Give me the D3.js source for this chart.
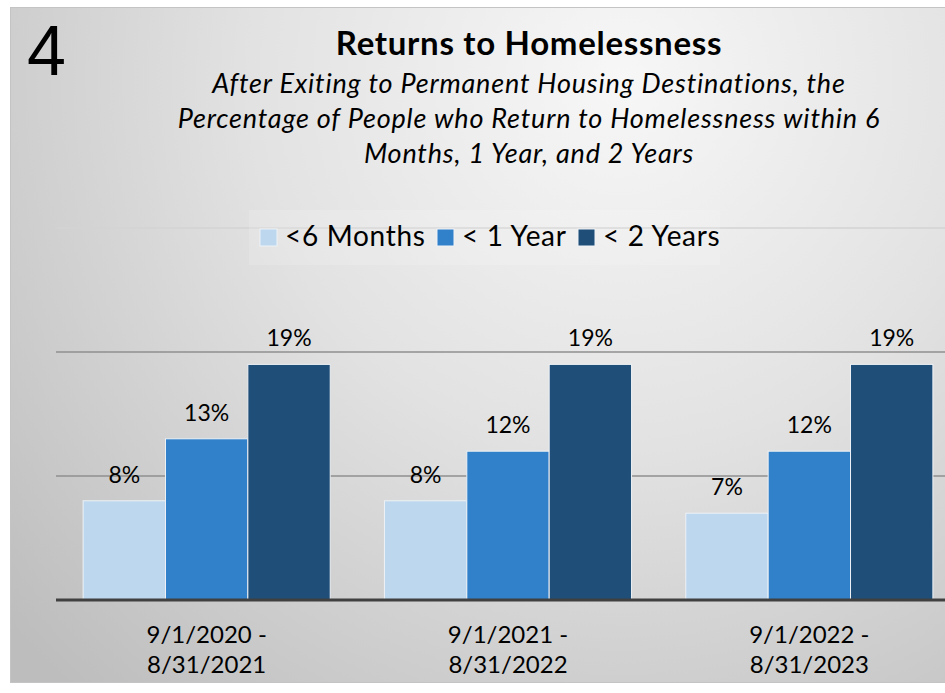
<!DOCTYPE html>
<html>
<head>
<meta charset="utf-8">
<script src="https://cdn.jsdelivr.net/npm/d3@7"></script>
<style>
  html, body { margin: 0; padding: 0; background: #ffffff; }
  svg { display: block; }
  text { font-family: Lato, "Noto Sans", sans-serif; fill: #000; }
</style>
</head>
<body>
<div id="chart"></div>
<script>
// data
var periods = ["9/1/2020 - 8/31/2021", "9/1/2021 - 8/31/2022", "9/1/2022 - 8/31/2023"];
var seriesNames = ["<6 Months", "< 1 Year", "< 2 Years"];
var sixMonths = [0.08, 0.08, 0.07];
var oneYear = [0.13, 0.12, 0.12];
var twoYears = [0.19, 0.19, 0.19];
var gridTicks = [0.1, 0.2, 0.3];
var seriesColors = ["#bdd7ee", "#3080ca", "#1f4e79"];

var subtitleLines = [
  "After Exiting to Permanent Housing Destinations, the",
  "Percentage of People who Return to Homelessness within 6",
  "Months, 1 Year, and 2 Years"
];

var W = 945, H = 693;
var plot = {left: 56, right: 960, top: 228, bottom: 600};

var rows = periods.map(function(p, i) {
  return {period: p, values: [sixMonths[i], oneYear[i], twoYears[i]]};
});

var svg = d3.select("#chart").append("svg")
  .attr("width", W)
  .attr("height", H);

// background gradient, lighter towards top centre
var defs = svg.append("defs");
var grad = defs.append("radialGradient")
  .attr("id", "bg")
  .attr("gradientUnits", "userSpaceOnUse")
  .attr("cx", 620).attr("cy", 80).attr("r", 820);
grad.append("stop").attr("offset", "0%").attr("stop-color", "#f7f7f7");
grad.append("stop").attr("offset", "45%").attr("stop-color", "#e2e2e2");
grad.append("stop").attr("offset", "100%").attr("stop-color", "#bdbdbd");

svg.append("rect")
  .attr("x", 10.5).attr("y", 7.5)
  .attr("width", 960).attr("height", 675)
  .attr("fill", "url(#bg)")
  .attr("stroke", "#c4c4c4")
  .attr("stroke-width", 1);

// scales
var x0 = d3.scaleBand()
  .domain(periods)
  .range([plot.left, plot.right])
  .paddingInner(0.18)
  .paddingOuter(0.09);

var x1 = d3.scaleBand()
  .domain(d3.range(seriesNames.length))
  .range([0, x0.bandwidth()]);

var y = d3.scaleLinear()
  .domain([0, 0.3])
  .range([plot.bottom, plot.top]);

// gridlines
svg.append("g")
  .selectAll("line")
  .data(gridTicks)
  .enter().append("line")
  .attr("x1", plot.left).attr("x2", plot.right)
  .attr("y1", function(d) { return y(d); })
  .attr("y2", function(d) { return y(d); })
  .attr("stroke", function(d) { return d === 0.3 ? "#d3d3d3" : "#8f8f8f"; })
  .attr("stroke-width", 1.5);

// bars
var groups = svg.append("g")
  .selectAll("g")
  .data(rows)
  .enter().append("g")
  .attr("transform", function(d) { return "translate(" + x0(d.period) + ",0)"; });

groups.selectAll("rect")
  .data(function(d) { return d.values; })
  .enter().append("rect")
  .attr("x", function(d, i) { return x1(i); })
  .attr("y", function(d) { return y(d); })
  .attr("width", x1.bandwidth())
  .attr("height", function(d) { return y(0) - y(d); })
  .attr("fill", function(d, i) { return seriesColors[i]; })
  .attr("stroke", "#eef2f6")
  .attr("stroke-width", 1);

groups.selectAll("text.value")
  .data(function(d) { return d.values; })
  .enter().append("text")
  .attr("class", "value")
  .attr("x", function(d, i) { return x1(i) + x1.bandwidth() / 2; })
  .attr("y", function(d) { return y(d) - 18; })
  .attr("text-anchor", "middle")
  .style("font-size", "23px")
  .text(d3.format(".0%"));

// baseline
svg.append("line")
  .attr("x1", plot.left).attr("x2", plot.right)
  .attr("y1", y(0)).attr("y2", y(0))
  .attr("stroke", "#404040")
  .attr("stroke-width", 3);

// category labels, two lines each
var cat = svg.append("g")
  .selectAll("text")
  .data(periods)
  .enter().append("text")
  .attr("text-anchor", "middle")
  .style("font-size", "24px");

cat.selectAll("tspan")
  .data(function(d) {
    var parts = d.split(" - ");
    return [{p: d, t: parts[0] + " -", dy: 643}, {p: d, t: parts[1], dy: 673}];
  })
  .enter().append("tspan")
  .attr("x", function(d) { return x0(d.p) + x0.bandwidth() / 2; })
  .attr("y", function(d) { return d.dy; })
  .text(function(d) { return d.t; });

// legend
svg.append("rect")
  .attr("x", 249).attr("y", 210)
  .attr("width", 471).attr("height", 55)
  .attr("fill", "#ffffff")
  .attr("opacity", 0.15);

var legendX = [260, 437, 578];
var legend = svg.append("g")
  .selectAll("g")
  .data(seriesNames)
  .enter().append("g")
  .attr("transform", function(d, i) { return "translate(" + legendX[i] + ",0)"; });

legend.append("rect")
  .attr("x", 0).attr("y", 229)
  .attr("width", 17).attr("height", 17)
  .attr("fill", function(d, i) { return seriesColors[i]; })
  .attr("stroke", "#eef2f6")
  .attr("stroke-width", 1);

legend.append("text")
  .attr("x", 25).attr("y", 246)
  .style("font-size", "28px")
  .style("letter-spacing", "0.7px")
  .text(function(d) { return d; });

// headings
svg.append("text")
  .attr("x", 27).attr("y", 75)
  .style("font-family", "'Liberation Sans', Arial, sans-serif")
  .style("font-size", "70px")
  .text("4");

svg.append("text")
  .attr("x", 529).attr("y", 55)
  .attr("text-anchor", "middle")
  .style("font-size", "33px")
  .style("font-weight", "bold")
  .style("letter-spacing", "0.7px")
  .text("Returns to Homelessness");

svg.append("g")
  .selectAll("text")
  .data(subtitleLines)
  .enter().append("text")
  .attr("x", 529)
  .attr("y", function(d, i) { return 93 + i * 35; })
  .attr("text-anchor", "middle")
  .style("font-size", "27px")
  .style("font-style", "italic")
  .style("letter-spacing", "0.8px")
  .text(function(d) { return d; });
</script>
</body>
</html>
